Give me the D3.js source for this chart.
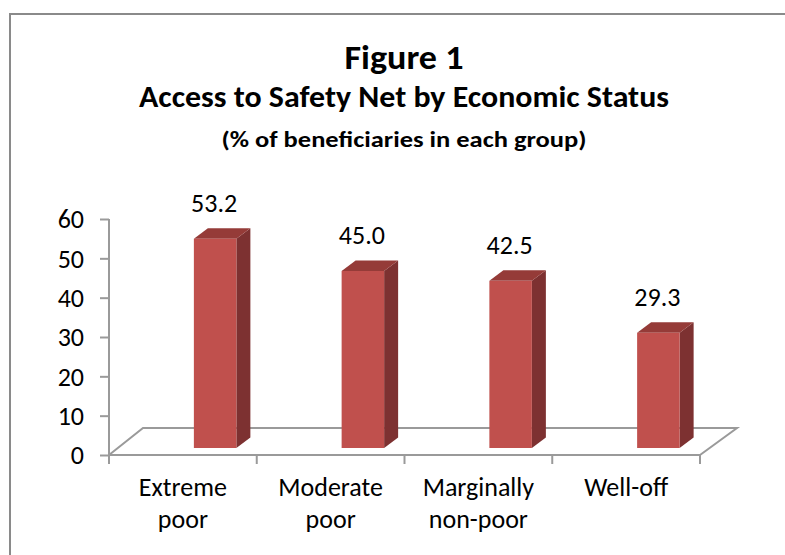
<!DOCTYPE html>
<html>
<head>
<meta charset="utf-8">
<script src="https://cdn.jsdelivr.net/npm/d3@7"></script>
<style>
  html, body { margin: 0; padding: 0; background: #fff; }
  svg { display: block; font-family: Carlito, Lato, "Open Sans", sans-serif; }
</style>
</head>
<body>
<svg id="chart" width="785" height="555"></svg>
<script>
// Share of beneficiaries reached by the safety net, by economic group
const categories = [["Extreme", "poor"], ["Moderate", "poor"], ["Marginally", "non-poor"], ["Well-off"]];
const values = [53.2, 45.0, 42.5, 29.3];
const yTicks = [0, 10, 20, 30, 40, 50, 60];
const titleLines = ["Figure 1", "Access to Safety Net by Economic Status", "(% of beneficiaries in each group)"];

const svg = d3.select("#chart");

// Chart frame
svg.append("rect")
  .attr("x", 10).attr("y", 14)
  .attr("width", 800).attr("height", 580)
  .attr("fill", "#fff")
  .attr("stroke", "#8a8a8a").attr("stroke-width", 2);

// Titles
const titleSpec = [
  { y: 69, size: 35, width: 119 },
  { y: 107, size: 30, width: 530 },
  { y: 147, size: 23, width: 365 }
];
titleLines.forEach((t, i) => {
  svg.append("text")
    .attr("x", 404).attr("y", titleSpec[i].y)
    .attr("text-anchor", "middle")
    .attr("font-weight", "bold")
    .attr("font-size", titleSpec[i].size)
    .attr("textLength", titleSpec[i].width)
    .attr("lengthAdjust", "spacingAndGlyphs")
    .attr("fill", "#000")
    .text(t);
});

// Scales
const x = d3.scaleBand().domain(d3.range(categories.length)).range([109, 700]).padding(0);
const y = d3.scaleLinear().domain([0, 60]).range([455, 219]);

// Oblique projection of the floor and bar depth
const floorDx = 34, floorDy = -27;   // front edge to back edge of the floor
const barLift = 7;                    // bars sit slightly behind the front edge
const barOffset = 11;                 // front face left edge from band centre
const barW = 42.5;
const depthDx = 14, depthDy = -10.5;

const grey = "#9a9a9a";

// Floor outline
const x0 = x.range()[0], x1 = x.range()[1], y0 = y(0);
svg.append("path")
  .attr("d", `M${x0},${y0} L${x0 + floorDx},${y0 + floorDy} L${x1 + floorDx + 3},${y0 + floorDy} L${x1},${y0}`)
  .attr("fill", "none").attr("stroke", grey).attr("stroke-width", 2);

// Bars
const bars = svg.append("g");
values.forEach((v, i) => {
  const left = x(i) + x.bandwidth() / 2 + barOffset;
  const right = left + barW;
  const bottom = y(0) - barLift;
  const top = y(v) - barLift;
  const g = bars.append("g");
  // side face
  g.append("path")
    .attr("d", `M${right},${bottom} L${right + depthDx},${bottom + depthDy} L${right + depthDx},${top + depthDy} L${right},${top} Z`)
    .attr("fill", "#7d3131");
  // top face
  g.append("path")
    .attr("d", `M${left},${top} L${right},${top} L${right + depthDx},${top + depthDy} L${left + depthDx},${top + depthDy} Z`)
    .attr("fill", "#953b38");
  // front face
  g.append("rect")
    .attr("x", left).attr("y", top)
    .attr("width", barW).attr("height", bottom - top)
    .attr("fill", "#c0504d");
  // value label
  svg.append("text")
    .attr("x", left + barW / 2 - 1).attr("y", top - 27)
    .attr("text-anchor", "middle")
    .attr("font-size", 26)
    .attr("fill", "#000")
    .text(v.toFixed(1));
});

// Value axis
const yAxis = svg.append("g").attr("transform", `translate(${x0},0)`)
  .call(d3.axisLeft(y).tickValues(yTicks).tickSize(9).tickPadding(16).tickFormat(d3.format("d")));
yAxis.attr("font-family", null).attr("font-size", null);
yAxis.selectAll("path, line").attr("stroke", grey).attr("stroke-width", 2);
yAxis.select(".domain").attr("d", `M0,${y(60)}V${y(0)}`);
yAxis.selectAll("text").attr("font-size", 26).attr("fill", "#000").attr("dy", "0.34em");

// Category axis
svg.append("line")
  .attr("x1", x0).attr("x2", x1).attr("y1", y0).attr("y2", y0)
  .attr("stroke", grey).attr("stroke-width", 2);
const boundaries = d3.range(categories.length + 1).map(i => i < categories.length ? x(i) : x1);
svg.selectAll(".ctick").data(boundaries).join("line")
  .attr("class", "ctick")
  .attr("x1", d => d).attr("x2", d => d)
  .attr("y1", y0).attr("y2", y0 + 9)
  .attr("stroke", grey).attr("stroke-width", 2);

categories.forEach((lines, i) => {
  const t = svg.append("text")
    .attr("text-anchor", "middle")
    .attr("font-size", 26)
    .attr("fill", "#000");
  lines.forEach((ln, j) => {
    t.append("tspan")
      .attr("x", x(i) + x.bandwidth() / 2)
      .attr("y", 496 + j * 32)
      .text(ln);
  });
});
</script>
</body>
</html>
